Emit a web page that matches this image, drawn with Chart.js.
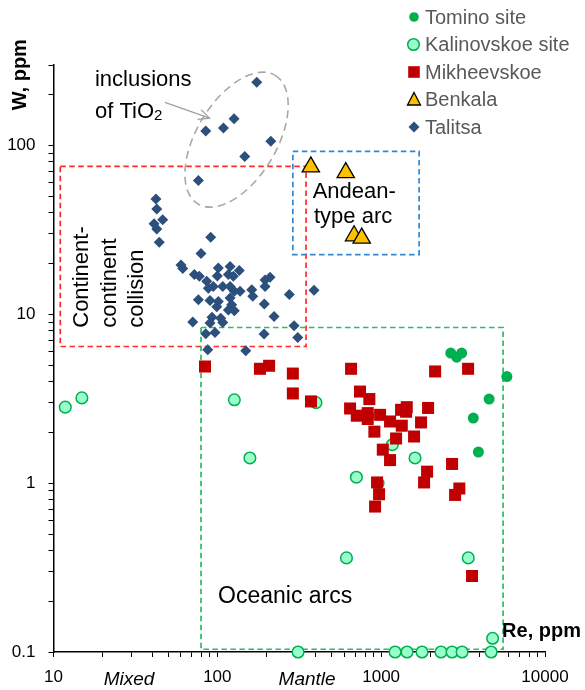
<!DOCTYPE html>
<html><head><meta charset="utf-8">
<script src="https://cdn.jsdelivr.net/npm/chart.js@4/dist/chart.umd.min.js"></script>
<style>html,body{margin:0;padding:0;background:#fff;}canvas{display:block;}</style>
</head><body>
<canvas id="c" width="585" height="690"></canvas>
<script>
// ---------- data (Re, ppm  /  W, ppm) ----------
const tominoRe = [2660, 2890, 3100, 5850, 4560, 3650, 3920];
const tominoW  = [5.9, 5.58, 5.9, 4.28, 3.15, 2.43, 1.53];

const kalinRe = [11.8, 14.9, 127, 400, 158, 1170, 1610, 706, 957, 614, 3400, 4790, 311, 1216, 1439, 1776, 2319, 2709, 3118, 4690];
const kalinW  = [2.82, 3.20, 3.12, 3.00, 1.41, 1.69, 1.41, 1.085, 1.0, 0.361, 0.361, 0.1206, 0.1, 0.1, 0.1, 0.1, 0.1, 0.1, 0.1, 0.1];

const mikhRe = [84.1, 182, 207, 289, 289, 373, 655, 743, 847, 646, 710, 828, 828, 985, 1133, 1336, 1323, 1433, 1419, 1934, 1752, 2134, 3393, 909, 1233, 1588, 1023, 1133, 1907, 2709, 1828, 944, 971, 918, 3000, 2826, 3587];
const mikhW  = [4.91, 4.76, 4.96, 4.46, 3.40, 3.05, 4.76, 3.49, 3.15, 2.77, 2.51, 2.60, 2.40, 2.54, 2.32, 2.19, 2.72, 2.82, 2.65, 2.79, 2.29, 4.59, 4.76, 2.02, 1.84, 1.89, 1.58, 1.37, 1.17, 1.30, 1.01, 1.01, 0.86, 0.727, 0.93, 0.852, 0.282];

const benkRe = [372, 608, 683, 761];
const benkW  = [74.7, 69.1, 29.2, 28.3];

const talRe = [174, 126.5, 109, 85, 212, 147, 76.6, 42.2, 42.7, 46.4, 41.1, 42.7, 44.2, 91.1, 79.5, 60, 61.5, 72.4, 77.6, 86.2,
  101.4, 100, 119.6, 116.8, 136.2, 125.2, 195.6, 209.8, 195.6, 275, 389, 76.6, 88.1, 94.5, 107.9, 119.6, 127, 137.6, 162.2, 164.5,
  90.2, 101.4, 99.2, 119.6, 122.4, 116.8, 127, 193.6, 221.9, 70.8, 92.8, 90.2, 104.9, 107.9, 85, 96.8, 192.8, 294, 309.6, 87.4, 149.1];
const talW = [237, 144, 127, 122, 106, 86, 62, 48.3, 42.1, 36.4, 34.4, 32.0, 26.7, 28.6, 22.9, 19.6, 18.7, 17.2, 16.8, 15.7,
  18.8, 16.9, 19.2, 17.2, 18.2, 16.8, 16.0, 16.6, 14.6, 13.1, 13.9, 12.2, 14.3, 14.6, 14.6, 14.6, 13.7, 13.7, 14.0, 12.8,
  12.1, 11.9, 11.1, 12.5, 11.4, 10.6, 10.5, 11.5, 9.7, 9.0, 9.6, 8.9, 9.5, 8.95, 7.67, 7.81, 7.64, 8.56, 7.30, 6.17, 6.08];

const seriesNames = ['Tomino site', 'Kalinovskoe site', 'Mikheevskoe', 'Benkala', 'Talitsa'];

// ---------- ticks ----------
const xTickValues = [10,20,30,40,50,60,70,80,90,100,200,300,400,500,600,700,800,900,1000,2000,3000,4000,5000,6000,7000,8000,9000,10000];
const xLabelValues = [10, 100, 1000, 10000];
const xTickLabels = ['10', '100', '1000', '10000'];
const yTickValues = [0.1,0.2,0.3,0.4,0.5,0.6,0.7,0.8,0.9,1,2,3,4,5,6,7,8,9,10,20,30,40,50,60,70,80,90,100,200,300];
const yLabelValues = [0.1, 1, 10, 100];
const yTickLabels = ['0.1', '1', '10', '100'];

const FONT = "'Liberation Sans', Arial, sans-serif";

// ---------- annotation config ----------
const boxes = [
  {x0: 11.0, x1: 348, y0: 6.45, y1: 75.3, color: '#FF2B2B'},
  {x0: 289, x1: 1704, y0: 22.6, y1: 92.4, color: '#2E88D2'},
  {x0: 79.5, x1: 5548, y0: 0.1038, y1: 8.36, color: '#2FBA68'}
];
const ellipse = {cx: 131, cy: 108.4, rx: 75, ry: 40, rot: -59};
const arrow = {x0: 47.9, y0: 180.4, x1: 89.6, y1: 145.3};
const texts = [
  {t: 'inclusions', x: 17.9, y: 245.8},
  {t: 'Andean-', x: 382, y: 53.3},
  {t: 'type arc', x: 389, y: 37.9},
  {t: 'Oceanic arcs', x: 101, y: 0.2128, size: 23}
];
const rotTexts = [
  {t: 'Continent-', x: 14.9, y: 8.33},
  {t: 'continent', x: 22.1, y: 8.33},
  {t: 'collision', x: 32.2, y: 8.33}
];

function pts(xs, ys) { return xs.map((v, i) => ({x: v, y: ys[i]})); }

const annot = {
  id: 'annot',
  beforeDatasetsDraw(chart) {
    const {ctx, scales: {x, y}} = chart;
    ctx.save();
    ctx.lineWidth = 1.7;
    ctx.setLineDash([5.5, 3.5]);
    boxes.forEach(b => {
      const l = x.getPixelForValue(b.x0), r = x.getPixelForValue(b.x1);
      const t = y.getPixelForValue(b.y1), bt = y.getPixelForValue(b.y0);
      ctx.strokeStyle = b.color;
      ctx.strokeRect(l, t, r - l, bt - t);
    });
    // ellipse
    ctx.strokeStyle = '#A8A8A8';
    ctx.lineWidth = 1.6;
    ctx.setLineDash([8, 5]);
    ctx.beginPath();
    ctx.ellipse(x.getPixelForValue(ellipse.cx), y.getPixelForValue(ellipse.cy), ellipse.rx, ellipse.ry, ellipse.rot * Math.PI / 180, 0, Math.PI * 2);
    ctx.stroke();
    // arrow
    ctx.setLineDash([]);
    ctx.lineWidth = 1.3;
    ctx.strokeStyle = '#A0A0A0';
    const ax0 = x.getPixelForValue(arrow.x0), ay0 = y.getPixelForValue(arrow.y0);
    const ax1 = x.getPixelForValue(arrow.x1), ay1 = y.getPixelForValue(arrow.y1);
    ctx.beginPath(); ctx.moveTo(ax0, ay0); ctx.lineTo(ax1, ay1); ctx.stroke();
    const ang = Math.atan2(ay1 - ay0, ax1 - ax0);
    ctx.beginPath();
    ctx.moveTo(ax1 - 12 * Math.cos(ang - 0.45), ay1 - 12 * Math.sin(ang - 0.45));
    ctx.lineTo(ax1, ay1);
    ctx.lineTo(ax1 - 12 * Math.cos(ang + 0.45), ay1 - 12 * Math.sin(ang + 0.45));
    ctx.stroke();
    // texts
    ctx.fillStyle = '#000';
    ctx.textBaseline = 'middle';
    ctx.textAlign = 'left';
    texts.forEach(o => {
      ctx.font = (o.size || 22) + 'px ' + FONT;
      ctx.fillText(o.t, x.getPixelForValue(o.x), y.getPixelForValue(o.y));
    });
    // "of TiO2"
    ctx.font = '22px ' + FONT;
    const tx = x.getPixelForValue(17.9), ty = y.getPixelForValue(158.8);
    ctx.fillText('of TiO', tx, ty);
    const w = ctx.measureText('of TiO').width;
    ctx.font = '15px ' + FONT;
    ctx.fillText('2', tx + w, ty + 4);
    // rotated texts
    ctx.font = '22px ' + FONT;
    rotTexts.forEach(o => {
      ctx.save();
      ctx.translate(x.getPixelForValue(o.x), y.getPixelForValue(o.y));
      ctx.rotate(-Math.PI / 2);
      ctx.fillText(o.t, 0, 0);
      ctx.restore();
    });
    ctx.restore();
  },
  afterDraw(chart) {
    const {ctx, chartArea, scales: {x, y}} = chart;
    ctx.save();
    // axis titles
    ctx.fillStyle = '#000';
    ctx.font = 'bold 20px ' + FONT;
    ctx.textBaseline = 'middle';
    ctx.textAlign = 'left';
    ctx.fillText('Re, ppm', x.getPixelForValue(5470), y.getPixelForValue(0.1314));
    ctx.save();
    ctx.translate(chartArea.left - 33, y.getPixelForValue(263));
    ctx.rotate(-Math.PI / 2);
    ctx.textAlign = 'center';
    ctx.fillText('W, ppm', 0, 0);
    ctx.restore();
    // Mixed / Mantle
    ctx.font = 'italic 19px ' + FONT;
    ctx.textAlign = 'center';
    ctx.fillText('Mixed', x.getPixelForValue(28.9), chartArea.bottom + 28);
    ctx.fillText('Mantle', x.getPixelForValue(353), chartArea.bottom + 28);
    // legend
    const lx = 414, tx = 425, ly0 = 17, dy = 27.5;
    ctx.font = '20px ' + FONT;
    ctx.textAlign = 'left';
    seriesNames.forEach((n, i) => {
      const cy = ly0 + i * dy;
      ctx.setLineDash([]);
      ctx.beginPath();
      if (i === 0) {
        ctx.arc(lx, cy, 4.8, 0, Math.PI * 2);
        ctx.fillStyle = '#00B050'; ctx.fill();
      } else if (i === 1) {
        ctx.arc(lx - 0.5, cy, 5.8, 0, Math.PI * 2);
        ctx.fillStyle = '#99FFCC'; ctx.fill();
        ctx.strokeStyle = '#00B050'; ctx.lineWidth = 1.5; ctx.stroke();
      } else if (i === 2) {
        ctx.fillStyle = '#C00000'; ctx.fillRect(lx - 5.8, cy - 5.8, 11.6, 11.6);
      } else if (i === 3) {
        ctx.moveTo(lx, cy - 7); ctx.lineTo(lx + 6.5, cy + 5.5); ctx.lineTo(lx - 6.5, cy + 5.5); ctx.closePath();
        ctx.fillStyle = '#FFC000'; ctx.fill();
        ctx.strokeStyle = '#000'; ctx.lineWidth = 1.3; ctx.stroke();
      } else {
        ctx.moveTo(lx, cy - 5.5); ctx.lineTo(lx + 5.5, cy); ctx.lineTo(lx, cy + 5.5); ctx.lineTo(lx - 5.5, cy); ctx.closePath();
        ctx.fillStyle = '#2D4F7C'; ctx.fill();
      }
      ctx.fillStyle = '#595959';
      ctx.fillText(n, tx, cy + 1);
    });
    ctx.restore();
  }
};

new Chart(document.getElementById('c'), {
  type: 'scatter',
  data: {
    datasets: [
      {label: seriesNames[0], data: pts(tominoRe, tominoW), pointStyle: 'circle', pointRadius: 5.5,
       backgroundColor: '#00B050', borderColor: '#00B050', borderWidth: 0, order: 5, clip: false},
      {label: seriesNames[1], data: pts(kalinRe, kalinW), pointStyle: 'circle', pointRadius: 5.8,
       backgroundColor: '#99FFCC', borderColor: '#00B050', borderWidth: 1.5, order: 4, clip: false},
      {label: seriesNames[2], data: pts(mikhRe, mikhW), pointStyle: 'rect', pointRadius: 8.5,
       backgroundColor: '#C00000', borderColor: '#C00000', borderWidth: 0, order: 3, clip: false},
      {label: seriesNames[3], data: pts(benkRe, benkW), pointStyle: 'triangle', pointRadius: 10,
       backgroundColor: '#FFC000', borderColor: '#000000', borderWidth: 1.3, order: 2, clip: false},
      {label: seriesNames[4], data: pts(talRe, talW), pointStyle: 'rectRot', pointRadius: 5.5,
       backgroundColor: '#2D4F7C', borderColor: '#2D4F7C', borderWidth: 0, order: 1, clip: false}
    ]
  },
  options: {
    responsive: false,
    animation: false,
    events: [],
    layout: {padding: {left: 0, right: 40, top: 65, bottom: 0}},
    plugins: {legend: {display: false}, tooltip: {enabled: false}},
    scales: {
      x: {
        type: 'logarithmic', position: 'bottom', min: 10, max: 10000,
        afterFit(s) { s.height = 38; },
        afterBuildTicks(s) { s.ticks = xTickValues.map(v => ({value: v})); },
        ticks: {
          autoSkip: false, maxRotation: 0, minRotation: 0, padding: 10, color: '#000',
          font: {family: FONT, size: 17},
          callback: v => { const i = xLabelValues.indexOf(v); return i >= 0 ? xTickLabels[i] : ''; }
        },
        grid: {drawOnChartArea: false, drawTicks: true, tickLength: 5, color: '#000', lineWidth: 1},
        border: {display: true, color: '#000', width: 1.5}
      },
      y: {
        type: 'logarithmic', position: 'left', min: 0.1, max: 300,
        afterFit(s) { s.width = 53.5; },
        afterBuildTicks(s) { s.ticks = yTickValues.map(v => ({value: v})); },
        ticks: {
          autoSkip: false, padding: 13, color: '#000',
          font: {family: FONT, size: 17},
          callback: v => { const i = yLabelValues.indexOf(v); return i >= 0 ? yTickLabels[i] : ''; }
        },
        grid: {drawOnChartArea: false, drawTicks: true, tickLength: 5, color: '#000', lineWidth: 1},
        border: {display: true, color: '#000', width: 1.5}
      }
    }
  },
  plugins: [annot]
});
</script>
</body></html>
